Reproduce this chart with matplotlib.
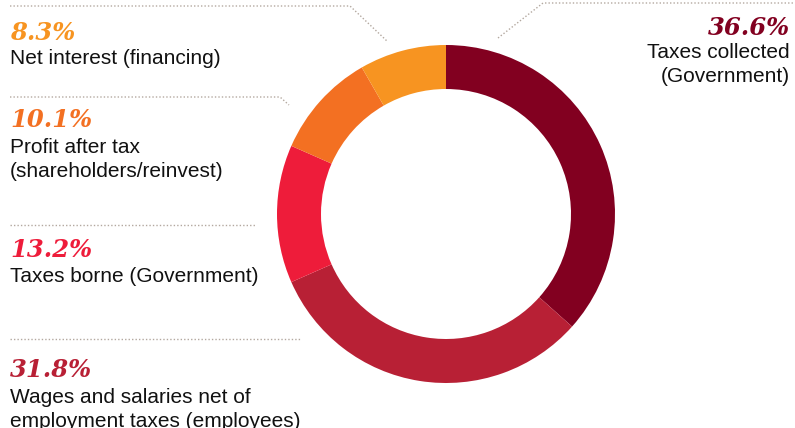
import matplotlib
matplotlib.use('Agg')
import matplotlib.pyplot as plt

# Share of total contribution by recipient
shares = [36.6, 31.8, 13.2, 10.1, 8.3]
pct_labels = ['36.6%', '31.8%', '13.2%', '10.1%', '8.3%']
names = [
    'Taxes collected\n(Government)',
    'Wages and salaries net of\nemployment taxes (employees)',
    'Taxes borne (Government)',
    'Profit after tax\n(shareholders/reinvest)',
    'Net interest (financing)',
]
colors = ['#820020', '#b82035', '#ee1c3a', '#f37022', '#f79421']

W, H = 795, 428


def px(x, y):
    # pixel coordinates (origin top-left) -> data coordinates
    return x, H - y


fig = plt.figure(figsize=(W / 100, H / 100), dpi=100)
ax = fig.add_axes([0, 0, 1, 1])

cx, cy = px(446, 214)
ax.pie(shares, colors=colors, startangle=90, counterclock=False,
       center=(cx, cy), radius=169,
       wedgeprops=dict(width=44, edgecolor='none'))
ax.set_xlim(0, W)
ax.set_ylim(0, H)
ax.set_aspect('equal')
ax.axis('off')

# dotted leader lines
lead = dict(color='#b3a89f', lw=1.0, ls=(0, (1, 1.5)))
leaders = [
    [(10, 6), (350, 6), (388, 42)],
    [(10, 97), (280, 97), (289, 105)],
    [(10, 225), (255, 225)],
    [(10, 339), (300, 339)],
    [(498, 38), (543, 3), (795, 3)],
]
for pts in leaders:
    xs = [p[0] for p in pts]
    ys = [H - p[1] for p in pts]
    ax.plot(xs, ys, **lead)

pct_font = dict(family='DejaVu Serif', fontweight='bold', fontstyle='italic',
                fontsize=17.5)
name_font = dict(family='Liberation Sans', fontsize=15, color='#111111',
                 linespacing=1.32)

# (x, pct baseline, first name-line baseline, alignment) for each slice
label_pos = [
    (790, 35, 57, 'right'),
    (10, 377, 402, 'left'),
    (10, 257, 282, 'left'),
    (10, 127, 152, 'left'),
    (10, 40, 64, 'left'),
]
line_step = 25
for i, (x, yp, yn, ha) in enumerate(label_pos):
    ax.text(*px(x, yp), pct_labels[i], color=colors[i], ha=ha, va='baseline',
            **pct_font)
    # multi-line text is anchored on the baseline of its last line
    last = yn + line_step * names[i].count('\n')
    ax.text(*px(x, last), names[i], ha=ha, va='baseline',
            multialignment=ha, **name_font)

fig.savefig('out.png', dpi=100)
